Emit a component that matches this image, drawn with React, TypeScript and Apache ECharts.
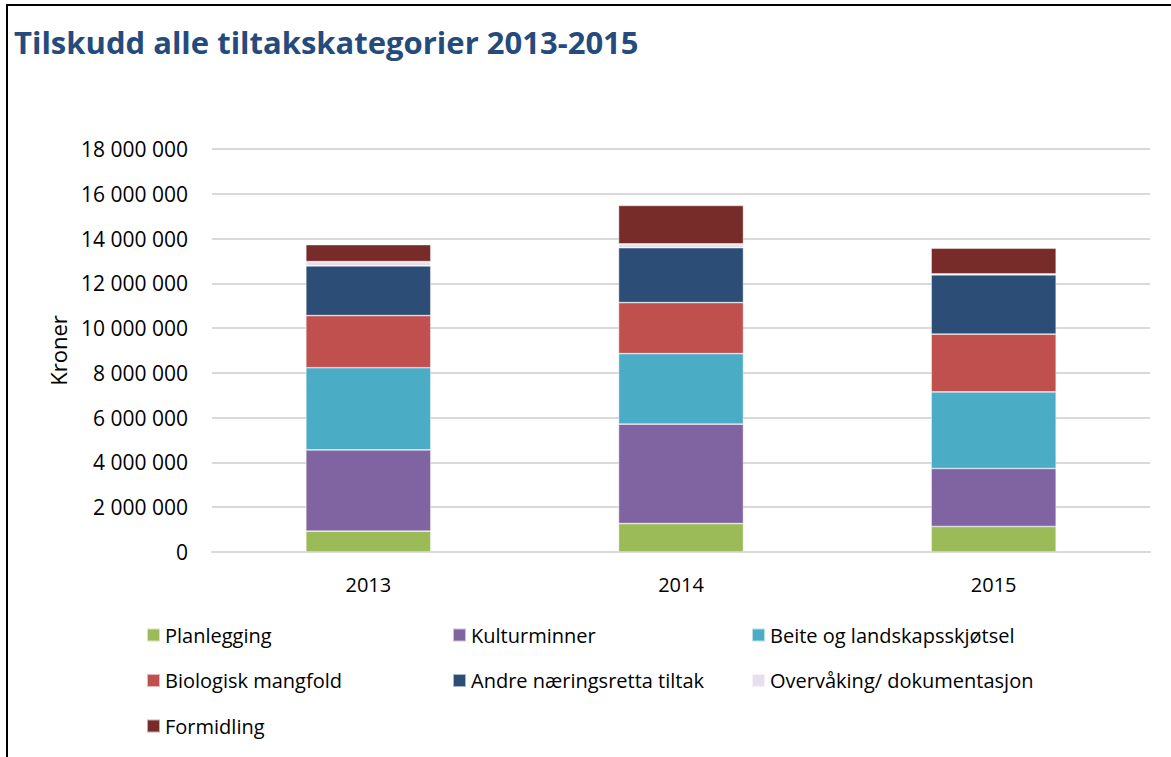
import React, { useEffect, useRef } from "react";
import * as echarts from "echarts";

const years = ["2013", "2014", "2015"];
const seriesNames = [
  "Planlegging",
  "Kulturminner",
  "Beite og landskapsskjøtsel",
  "Biologisk mangfold",
  "Andre næringsretta tiltak",
  "Overvåking/ dokumentasjon",
  "Formidling",
];
const planlegging = [930000, 1270000, 1140000];
const kulturminner = [3630000, 4440000, 2590000];
const beite = [3670000, 3150000, 3420000];
const biologisk = [2330000, 2280000, 2580000];
const andre = [2220000, 2450000, 2650000];
const overvaking = [190000, 170000, 40000];
const formidling = [760000, 1720000, 1150000];
const seriesValues = [planlegging, kulturminner, beite, biologisk, andre, overvaking, formidling];
const colors = ["#9BBB59", "#8064A2", "#4BACC6", "#C0504D", "#2C4D75", "#E6E0EC", "#772C2A"];
const yTicks = [0, 2000000, 4000000, 6000000, 8000000, 10000000, 12000000, 14000000, 16000000, 18000000];

const fmt = (v: number) => String(v).replace(/\B(?=(\d{3})+(?!\d))/g, " ");

export default function App() {
  const ref = useRef<HTMLDivElement>(null);
  useEffect(() => {
    document.body.style.margin = "0";
    const chart = echarts.init(ref.current!, null, { renderer: "svg" });
    const legendText = { fontFamily: "Open Sans", fontSize: 20, color: "#000" };
    const legendBase = {
      orient: "vertical" as const,
      icon: "rect",
      itemWidth: 13,
      itemHeight: 13,
      itemGap: 25.5,
      textStyle: legendText,
      selectedMode: false,
      top: 620,
    };
    chart.setOption({
      animation: false,
      backgroundColor: "#fff",
      title: {
        text: "Tilskudd alle tiltakskategorier 2013-2015",
        left: 9,
        top: 21,
        textStyle: { fontFamily: "Open Sans", fontWeight: "bold", fontSize: 31, color: "#254B7C" },
      },
      graphic: [
        {
          type: "rect",
          shape: { x: 7, y: 5, width: 1300, height: 900 },
          style: { fill: "none", stroke: "#000", lineWidth: 2 },
          silent: true,
        },
      ],
      legend: [
        { ...legendBase, left: 141, data: [seriesNames[0], seriesNames[3], seriesNames[6]] },
        { ...legendBase, left: 447, data: [seriesNames[1], seriesNames[4]] },
        { ...legendBase, left: 746, data: [seriesNames[2], seriesNames[5]] },
      ],
      grid: { left: 212, right: 21, top: 149, bottom: 205, containLabel: false },
      xAxis: {
        type: "category",
        data: years,
        axisLine: { lineStyle: { color: "#d9d9d9", width: 2 } },
        axisTick: { show: false },
        axisLabel: { fontFamily: "Open Sans", fontSize: 20, color: "#000", margin: 22 },
      },
      yAxis: {
        type: "value",
        min: 0,
        max: yTicks[yTicks.length - 1],
        interval: yTicks[1] - yTicks[0],
        name: "Kroner",
        nameLocation: "middle",
        nameGap: 143,
        nameTextStyle: { fontFamily: "Open Sans", fontSize: 22, color: "#000" },
        axisLine: { show: false },
        axisTick: { show: false },
        splitLine: { lineStyle: { color: "#d9d9d9", width: 2 } },
        axisLabel: { fontFamily: "Open Sans", fontSize: 21, color: "#000", margin: 24, formatter: (v: number) => fmt(v) },
      },
      series: seriesNames.map((name, i) => ({
        name,
        type: "bar",
        stack: "total",
        barWidth: 125,
        data: seriesValues[i],
        itemStyle: { color: colors[i], borderColor: "rgba(255,255,255,0.6)", borderWidth: 0.7 },
      })),
    });
    return () => chart.dispose();
  }, []);
  return <div ref={ref} style={{ width: 1171, height: 757 }} />;
}
